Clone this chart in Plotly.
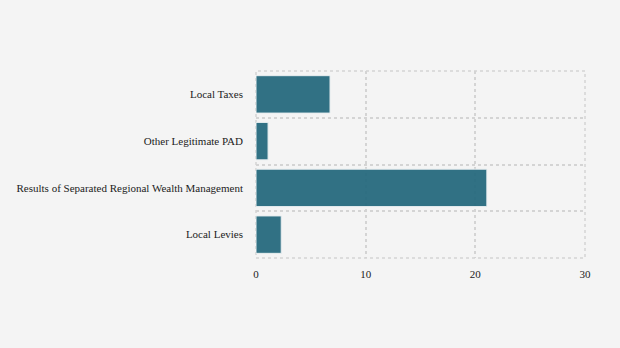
import plotly.graph_objects as go

categories = ["Local Taxes", "Other Legitimate PAD",
              "Results of Separated Regional Wealth Management", "Local Levies"]
values = [6.75, 1.1, 21.05, 2.3]
x_ticks = [0, 10, 20, 30]

fig = go.Figure(go.Bar(
    x=values, y=categories, orientation="h",
    marker=dict(color="rgba(38,105,125,0.95)", line=dict(color="#e8eef0", width=1)),
    width=0.8,
))

grid = dict(showgrid=True, gridcolor="#d4d4d4", gridwidth=1.5, griddash="3px,3px")
fig.update_layout(
    width=620, height=348,
    paper_bgcolor="#f4f4f4", plot_bgcolor="#f4f4f4",
    margin=dict(l=256, r=35, t=71, b=90),
    font=dict(family="'Liberation Serif', 'Times New Roman', serif", size=11, color="#222"),
    showlegend=False,
    xaxis=dict(range=[0, 30], tickvals=x_ticks, zeroline=False, ticks="",
               showline=False, ticklabelstandoff=8, **grid),
    yaxis=dict(autorange="reversed", tickson="boundaries", ticks="",
               showline=False, ticklabelstandoff=12, **grid),
)
fig.add_shape(type="rect", xref="x domain", yref="y domain", x0=0, x1=1, y0=0, y1=1,
              line=dict(color="#d4d4d4", width=1.5, dash="3px,3px"), layer="below")
fig.write_html("out.html")
